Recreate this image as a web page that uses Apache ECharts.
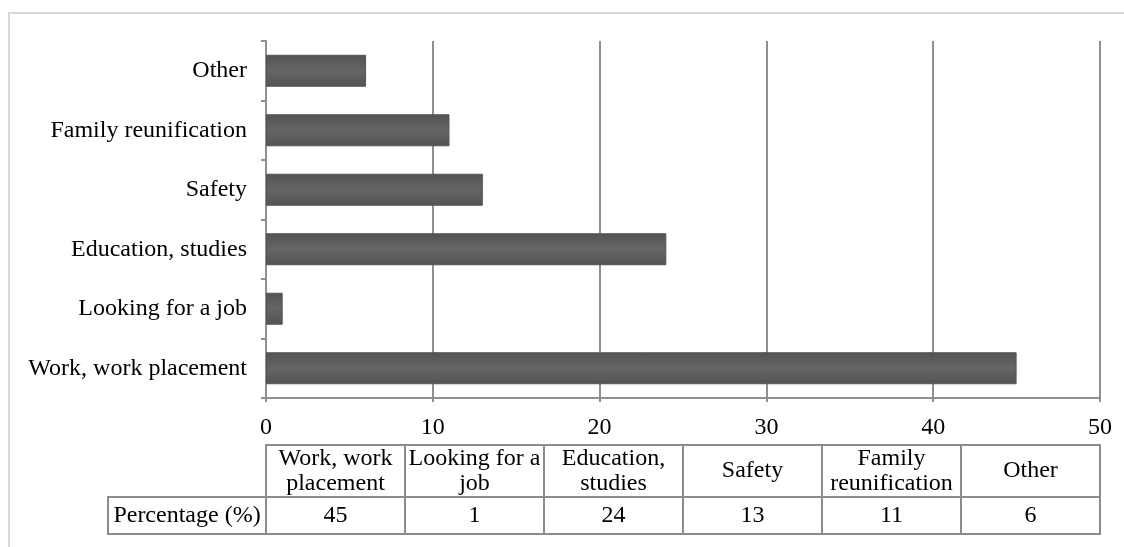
<!DOCTYPE html>
<html>
<head>
<meta charset="utf-8">
<script src="https://cdn.jsdelivr.net/npm/echarts@6/dist/echarts.min.js"></script>
<style>
html,body{margin:0;padding:0;background:#fff;}
#chart{width:1124px;height:547px;}
</style>
</head>
<body>
<div id="chart"></div>
<script>
// Categories listed bottom-to-top on the y axis (same order as table columns)
const categories = ['Work, work placement', 'Looking for a job', 'Education, studies', 'Safety', 'Family reunification', 'Other'];
const values = [45, 1, 24, 13, 11, 6];
const tableHeaders = ['Work, work\nplacement', 'Looking for a\njob', 'Education,\nstudies', 'Safety', 'Family\nreunification', 'Other'];
const rowLabel = 'Percentage (%)';

const FONT = "'Liberation Serif', 'Times New Roman', serif";
const FS = 24;
const GRID = '#8f8f8f';
const TBL = '#8c8c8c';

const chart = echarts.init(document.getElementById('chart'), null, {renderer: 'canvas'});

function cellRenderer(textFn) {
  return function (params, api) {
    const p = api.coord([api.value(0), 0]);
    const s = api.size([1, 1]);
    return {
      type: 'group',
      children: [
        {type: 'rect', shape: {x: p[0] - s[0] / 2, y: p[1] - s[1] / 2, width: s[0], height: s[1]},
         style: {fill: '#fff', stroke: TBL, lineWidth: 2}},
        {type: 'text', x: p[0], y: p[1],
         style: {text: textFn(params, api), align: 'center', verticalAlign: 'middle',
                 fontFamily: FONT, fontSize: FS, lineHeight: 25, fill: '#000'}}
      ]
    };
  };
}

const option = {
  animation: false,
  backgroundColor: '#fff',
  grid: [
    {left: 266, right: 24, top: 41, bottom: 149},
    {left: 266, right: 24, top: 445, height: 52},
    {left: 266, right: 24, top: 497, height: 37}
  ],
  xAxis: [
    {
      type: 'value', gridIndex: 0, min: 0, max: 50, interval: 10,
      axisLine: {show: true, lineStyle: {color: GRID, width: 2}},
      axisTick: {show: true, length: 4, lineStyle: {color: GRID, width: 2}},
      splitLine: {show: true, lineStyle: {color: GRID, width: 2}},
      axisLabel: {color: '#000', fontFamily: FONT, fontSize: FS, margin: 18}
    },
    {type: 'category', gridIndex: 1, data: categories, show: false},
    {type: 'category', gridIndex: 2, data: categories, show: false}
  ],
  yAxis: [
    {
      type: 'category', gridIndex: 0, data: categories,
      axisLine: {show: true, lineStyle: {color: GRID, width: 2}},
      axisTick: {show: true, length: 5, lineStyle: {color: GRID, width: 2}},
      axisLabel: {color: '#000', fontFamily: FONT, fontSize: FS, margin: 19}
    },
    {type: 'category', gridIndex: 1, data: ['header'], show: false},
    {type: 'category', gridIndex: 2, data: [rowLabel], show: false}
  ],
  series: [
    {
      type: 'bar', xAxisIndex: 0, yAxisIndex: 0,
      data: values, barWidth: 32,
      itemStyle: {
        color: new echarts.graphic.LinearGradient(0, 0, 0, 1, [
          {offset: 0, color: '#535353'},
          {offset: 0.25, color: '#5c5c5c'},
          {offset: 0.5, color: '#656565'},
          {offset: 0.75, color: '#5c5c5c'},
          {offset: 1, color: '#535353'}
        ]),
        borderColor: '#555555', borderWidth: 1
      }
    },
    {
      type: 'custom', xAxisIndex: 1, yAxisIndex: 1,
      data: categories.map(c => [c, 0]),
      renderItem: cellRenderer((params) => tableHeaders[params.dataIndex]),
      silent: true
    },
    {
      type: 'custom', xAxisIndex: 2, yAxisIndex: 2,
      data: categories.map((c, i) => [c, 0, values[i]]),
      renderItem: cellRenderer((params, api) => String(api.value(2))),
      silent: true
    }
  ],
  graphic: [
    {type: 'rect', shape: {x: 9, y: 13, width: 1300, height: 700},
     style: {fill: 'none', stroke: '#d9d9d9', lineWidth: 2}, silent: true},
    {type: 'rect', shape: {x: 108, y: 497, width: 158, height: 37},
     style: {fill: '#fff', stroke: TBL, lineWidth: 2}, silent: true},
    {type: 'text', x: 187, y: 515.5,
     style: {text: rowLabel, align: 'center', verticalAlign: 'middle',
             fontFamily: FONT, fontSize: FS, fill: '#000'}, silent: true}
  ]
};
chart.setOption(option);
</script>
</body>
</html>
